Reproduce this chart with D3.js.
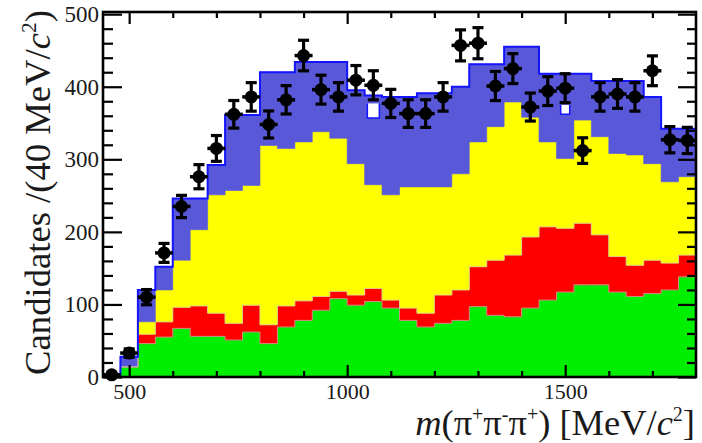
<!DOCTYPE html>
<html><head><meta charset="utf-8">
<script src="https://cdn.jsdelivr.net/npm/d3@7"></script>
<style>html,body{margin:0;padding:0;background:#fff;} svg{display:block;}
svg text{font-family:"Liberation Serif","DejaVu Serif","Noto Serif",Times,serif !important;}</style>
</head><body>
<svg id="c" width="702" height="443"></svg>
<script>
// ---- data ----
const binEdges = [440,480,520,560,600,640,680,720,760,800,840,880,920,960,1000,1040,1080,1120,1160,1200,1240,1280,1320,1360,1400,1440,1480,1520,1560,1600,1640,1680,1720,1760,1800];
const greenCounts  = [0,14,46,55,67,56,56,51,62,46,69,78,92,108,99,104,95,78,69,74,78,97,85,83,95,106,117,127,127,117,111,115,120,138];
const redCounts    = [0,0,13,21,29,42,32,23,37,26,29,27,19,10,14,18,11,17,19,39,42,55,76,85,98,101,88,85,69,49,43,46,37,30];
const yellowCounts = [0,0,17,44,65,105,163,183,165,247,217,219,227,211,181,143,145,167,174,149,160,172,184,211,165,117,96,142,135,142,152,133,112,108];
const blueCounts   = [0,14,44,32,85,43,41,104,97,101,105,110,96,105,101,123,135,124,129,129,120,107,86,76,97,94,117,64,77,100,102,92,73,66];
const dataCounts   = [3,33,110,171,235,276,315,362,386,348,382,443,396,386,409,402,377,363,363,386,457,460,401,425,372,394,398,312,386,390,386,422,327,326];
const notchBins    = [1060,1500];
const notchTop     = [377,375];
const notchBottom  = [357,362];
const xMajorTicks  = [500,1000,1500];
const xMinorTicks  = [600,700,800,900,1100,1200,1300,1400,1600,1700];
const yMajorTicks  = [0,100,200,300,400,500];
const yMinorTicks  = [20,40,60,80,120,140,160,180,220,240,260,280,320,340,360,380,420,440,460,480];

// ---- layout ----
const svg = d3.select("#c");
const x = d3.scaleLinear().domain([440,1800]).range([103,696]);
const y = d3.scaleLinear().domain([0,503]).range([377,12]);
const FONT = '"Liberation Serif","DejaVu Serif","Noto Serif",Times,serif';

const bins = binEdges.slice(0,-1).map((e,i)=>({x0:e, x1:binEdges[i+1], green:greenCounts[i], red:redCounts[i], yellow:yellowCounts[i], blue:blueCounts[i], data:dataCounts[i]}));
const keys = ["green","red","yellow","blue"];
const colors = {green:"#00ee00", red:"#ff0000", yellow:"#ffff00", blue:"#5858d8"};
const series = d3.stack().keys(keys)(bins);

const g = svg.append("g");

function stepPts(s){
  const pts=[];
  s.forEach((d,i)=>{ pts.push({x:bins[i].x0,y0:d[0],y1:d[1]}); pts.push({x:bins[i].x1,y0:d[0],y1:d[1]}); });
  return pts;
}
const area = d3.area().x(d=>x(d.x)).y0(d=>y(d.y0)).y1(d=>y(d.y1));
series.forEach(s=>{
  g.append("path").attr("d",area(stepPts(s))).attr("fill",colors[s.key]).attr("stroke",colors[s.key]).attr("stroke-width",0.6);
});
const line = d3.line().x(d=>x(d.x)).y(d=>y(d.y1));
[0,1].forEach(k=>{
  g.append("path").attr("d",line(stepPts(series[k]))).attr("fill","none").attr("stroke","#c9c9c9").attr("stroke-width",0.9).attr("opacity",0.7);
});
const topPts = [{x:440,y1:0}].concat(stepPts(series[3]));
g.append("path").attr("d",line(topPts)).attr("fill","none").attr("stroke","#1414ff").attr("stroke-width",2);

notchBins.forEach((c,i)=>{
  const hw = i===0 ? 6 : 4.5;
  const cx = x(c);
  g.append("path")
   .attr("d",`M${cx-hw},${y(notchTop[i])}L${cx-hw},${y(notchBottom[i])}L${cx+hw},${y(notchBottom[i])}L${cx+hw},${y(notchTop[i])}`)
   .attr("fill","#fff").attr("stroke","#1414ff").attr("stroke-width",1.5);
});

// data points
const pts = g.append("g");
bins.forEach(b=>{
  const cx = x((b.x0+b.x1)/2), v=b.data, e=Math.sqrt(v);
  const yt=y(v+e), yb=y(Math.max(0,v-e)), yc=y(v);
  pts.append("line").attr("x1",cx).attr("x2",cx).attr("y1",yt).attr("y2",yb).attr("stroke","#000").attr("stroke-width",3.2);
  [yt,yb].forEach(yy=>pts.append("line").attr("x1",cx-5.5).attr("x2",cx+5.5).attr("y1",yy).attr("y2",yy).attr("stroke","#000").attr("stroke-width",3.2));
  pts.append("line").attr("x1",cx-9).attr("x2",cx+9).attr("y1",yc).attr("y2",yc).attr("stroke","#000").attr("stroke-width",3.5);
  pts.append("circle").attr("cx",cx).attr("cy",yc).attr("r",6.5).attr("fill","#000");
});

// axes
function styleAxis(sel){ sel.attr("font-family",FONT); sel.select(".domain").remove(); sel.selectAll("line").attr("stroke","#000").attr("stroke-width",2.2); sel.selectAll("text").attr("fill","#1a1a1a").style("font-family",FONT); }
const fmt = d3.format("d");
svg.append("g").attr("transform",`translate(${x(440)},0)`).call(d3.axisLeft(y).tickValues(yMajorTicks).tickFormat(fmt).tickSizeInner(-19).tickSizeOuter(0).tickPadding(4)).call(styleAxis).selectAll("text").attr("font-size",23);
svg.append("g").attr("transform",`translate(${x(440)},0)`).call(d3.axisLeft(y).tickValues(yMinorTicks).tickSize(-10).tickFormat("")).call(styleAxis);
svg.append("g").attr("transform",`translate(${x(1800)},0)`).call(d3.axisRight(y).tickValues(yMajorTicks).tickSize(-18).tickFormat("")).call(styleAxis);
svg.append("g").attr("transform",`translate(${x(1800)},0)`).call(d3.axisRight(y).tickValues(yMinorTicks).tickSize(-9).tickFormat("")).call(styleAxis);
svg.append("g").attr("transform",`translate(0,${y(0)})`).call(d3.axisBottom(x).tickValues(xMajorTicks).tickFormat(fmt).tickSizeInner(-12).tickSizeOuter(0).tickPadding(6)).call(styleAxis).selectAll("text").attr("font-size",22);
svg.append("g").attr("transform",`translate(0,${y(0)})`).call(d3.axisBottom(x).tickValues(xMinorTicks).tickSize(-6).tickFormat("")).call(styleAxis);
svg.append("g").attr("transform",`translate(0,${y(503)})`).call(d3.axisTop(x).tickValues(xMajorTicks).tickSize(-12).tickFormat("")).call(styleAxis);
svg.append("g").attr("transform",`translate(0,${y(503)})`).call(d3.axisTop(x).tickValues(xMinorTicks).tickSize(-6).tickFormat("")).call(styleAxis);

svg.append("rect").attr("x",x(440)).attr("y",y(503)).attr("width",x(1800)-x(440)).attr("height",y(0)-y(503)).attr("fill","none").attr("stroke","#000").attr("stroke-width",2.6);

// labels, scaled so they span the same length as in the reference
function fitText(sel, target){
  const fs = +sel.attr("font-size");
  const len = sel.node().getComputedTextLength();
  if(len>0){
    const k = target/len;
    sel.attr("font-size", fs*k);
    sel.selectAll("tspan").each(function(){
      const t=d3.select(this);
      if(t.attr("font-size")) t.attr("font-size", +t.attr("font-size")*k);
      if(t.attr("dy")) t.attr("dy", +t.attr("dy")*k);
    });
  }
}
const yl = svg.append("text").attr("transform","translate(50,10) rotate(-90)").attr("text-anchor","end")
  .attr("font-family",FONT).attr("font-size",34).attr("fill","#1a1a1a");
yl.append("tspan").text("Candidates /(40 MeV/");
yl.append("tspan").attr("font-style","italic").text("c");
yl.append("tspan").attr("font-size",20).attr("dy",-13).text("2");
yl.append("tspan").attr("dy",13).text(")");
fitText(yl, 365);

const xl = svg.append("text").attr("x",695).attr("y",435).attr("text-anchor","end")
  .attr("font-family",FONT).attr("font-size",31).attr("fill","#1a1a1a");
xl.append("tspan").attr("font-style","italic").text("m");
xl.append("tspan").text("(π");
xl.append("tspan").attr("font-size",17).attr("dy",-12).text("+");
xl.append("tspan").attr("dy",12).text("π");
xl.append("tspan").attr("font-size",17).attr("dy",-12).text("-");
xl.append("tspan").attr("dy",12).text("π");
xl.append("tspan").attr("font-size",17).attr("dy",-12).text("+");
xl.append("tspan").attr("dy",12).text(") [MeV/");
xl.append("tspan").attr("font-style","italic").text("c");
xl.append("tspan").attr("font-size",17).attr("dy",-12).text("2");
xl.append("tspan").attr("dy",12).text("]");
fitText(xl, 280);
</script>
</body></html>
